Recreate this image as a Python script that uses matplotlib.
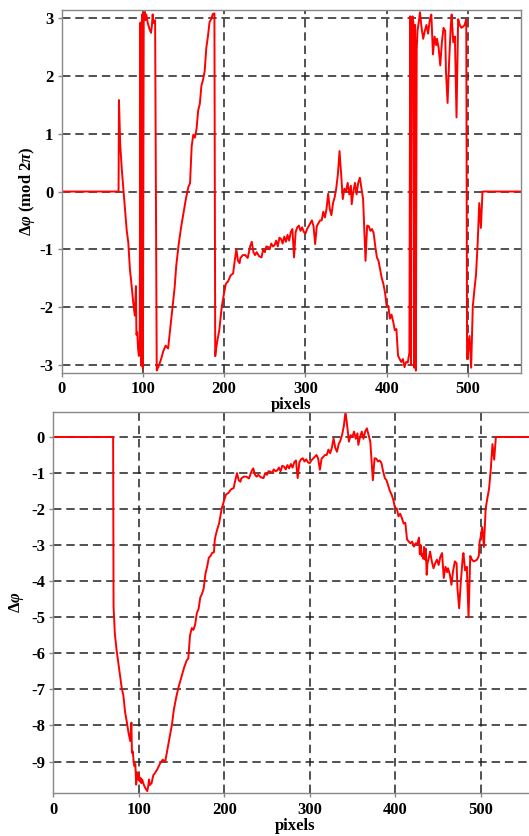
import numpy as np
import matplotlib
matplotlib.use('Agg')
import matplotlib.pyplot as plt

# unwrapped phase difference (x in pixels)
x_pix = [0, 70, 70.5, 72, 74, 76, 78, 80, 82, 84, 86, 88, 90, 91.4, 92, 93, 94, 95,
         96, 97, 98, 99, 100, 101, 102, 103, 104, 106, 108, 110, 111, 112, 113, 115,
         117, 119, 122, 125, 128, 131, 134, 137, 139, 141, 144, 147, 150, 153, 156,
         158, 160, 162, 164, 166, 168, 170, 172, 174, 176, 178, 180, 182, 184, 186,
         188, 189, 190, 192, 194, 197, 200, 202, 205, 208, 211, 213, 215, 217, 219,
         220, 223, 226, 229, 232, 234, 236, 238, 240, 243, 246, 248, 250, 252, 254,
         256, 258, 260, 262, 264, 266, 268, 270, 272, 274, 276, 278, 280, 282, 284,
         286, 288, 290, 292, 294, 296, 298, 300, 302, 304, 306, 308, 310, 312, 314,
         316, 318, 320, 322, 324, 326, 328, 330, 332, 334, 336, 338, 340, 342, 344,
         346, 348, 350, 352, 354, 356, 357, 359, 361, 363, 365, 367, 369, 371, 374,
         376, 378, 380, 382, 384, 386, 388, 390, 392, 394, 396, 398, 400, 402, 404,
         406, 408, 410, 412, 414, 416, 418, 420, 422, 424, 426, 428, 429, 430, 431,
         432, 433, 434, 435, 436, 437, 438, 440, 441, 443, 445, 447, 449, 451, 453,
         455, 457, 459, 461, 462, 464, 466, 468, 470, 472, 473, 475, 477, 479, 480,
         482, 484, 486, 488, 490, 492, 494, 496, 498, 499, 500, 502, 504, 506, 508,
         510, 512, 514, 516, 518, 565]
dphi = [0.0, 0.0, -4.70, -5.45, -5.9, -6.25, -6.6, -6.95, -7.17, -7.63, -7.9, -8.2, -8.43,
        -7.92, -8.76, -8.72, -9.0, -9.13, -9.07, -9.64, -9.3, -9.5, -9.35, -9.55, -9.45,
        -9.6, -9.5, -9.65, -9.75, -9.82, -9.7, -9.5, -9.65, -9.6, -9.38, -9.32, -9.2,
        -9.05, -8.95, -9.0, -8.6, -8.2, -7.95, -7.57, -7.2, -6.9, -6.65, -6.4, -6.2,
        -6.14, -5.5, -5.3, -5.35, -5.2, -4.88, -4.77, -4.45, -4.35, -4.2, -3.8, -3.6,
        -3.35, -3.3, -3.21, -3.2, -2.85, -2.73, -2.55, -2.4, -2.0, -1.75, -1.6, -1.55,
        -1.45, -1.42, -1.2, -1.0, -1.2, -1.24, -1.15, -1.1, -1.1, -1.15, -0.95, -0.87,
        -1.05, -1.1, -1.05, -1.12, -1.14, -1.0, -1.05, -0.95, -0.96, -1.0, -0.9, -0.95,
        -0.93, -0.85, -0.95, -0.8, -0.82, -0.9, -0.78, -0.87, -0.75, -0.85, -0.7, -0.65,
        -1.14, -0.7, -0.62, -0.59, -0.68, -0.62, -0.7, -0.73, -0.65, -0.6, -0.55, -0.5,
        -0.6, -0.91, -0.6, -0.55, -0.5, -0.5, -0.35, -0.45, -0.3, -0.04, -0.3, -0.41,
        -0.2, -0.1, 0.06, 0.3, 0.7, 0.3, -0.13, 0.05, 0.0, 0.15, -0.05, 0.1, -0.22, 0.0,
        0.15, -0.05, 0.15, 0.24, 0.05, -0.13, -1.2, -0.59, -0.6, -0.68, -0.65, -0.72,
        -0.95, -1.14, -1.2, -1.35, -1.5, -1.6, -1.75, -1.98, -1.98, -2.2, -2.13, -2.25,
        -2.4, -2.38, -2.84, -2.9, -2.95, -2.9, -3.04, -2.95, -2.96, -2.79, -3.25, -3.0,
        -3.3, -3.25, -3.38, -3.05, -3.4, -3.1, -3.82, -3.5, -3.3, -3.18, -3.45, -3.64,
        -3.5, -3.4, -3.55, -3.32, -3.22, -3.91, -3.6, -3.75, -3.64, -3.8, -4.1, -3.7,
        -3.45, -3.5, -4.2, -4.75, -4.0, -3.4, -3.22, -3.7, -3.6, -5.0, -3.3, -3.4,
        -3.45, -3.43, -3.4, -3.3, -2.9, -2.8, -2.5, -3.05, -2.0, -1.7, -1.44, -0.9,
        -0.2, -0.63, 0.0, 0.0]

x_ticks = [0, 100, 200, 300, 400, 500]
wrap_yticks = [-3, -2, -1, 0, 1, 2, 3]
unwrap_yticks = [0, -1, -2, -3, -4, -5, -6, -7, -8, -9]

x = np.array(x_pix, dtype=float)
phi = np.array(dphi)
phi_wrapped = np.angle(np.exp(1j * phi))  # mod 2pi into (-pi, pi]

plt.rcParams['font.family'] = 'Liberation Serif'
plt.rcParams['font.weight'] = 'bold'
plt.rcParams['axes.unicode_minus'] = False
plt.rcParams['mathtext.fontset'] = 'custom'
plt.rcParams['mathtext.rm'] = 'Liberation Serif:bold'
plt.rcParams['mathtext.it'] = 'Liberation Serif:bold:italic'

fig = plt.figure(figsize=(5.29, 8.36), dpi=100)
ax_top = fig.add_axes([0.1166, 0.5538, 0.8677, 0.4342])
ax_bot = fig.add_axes([0.1008, 0.0511, 0.9125, 0.4564])

line_kw = dict(color='#ff0000', linewidth=1.4)
grid_kw = dict(color='#222222', linewidth=1.1, linestyle=(0, (5.5, 3.2)))
FS = 12


def style_axes(ax, yticks):
    ax.set_xticks(x_ticks, labels=[str(v) for v in x_ticks],
                  fontsize=FS, fontweight='bold')
    ax.set_yticks(yticks, labels=[str(v) for v in yticks],
                  fontsize=FS, fontweight='bold')
    ax.grid(True, **grid_kw)
    ax.set_axisbelow(True)
    ax.tick_params(direction='out', length=3, width=1, color='#888888', pad=3)
    for s in ax.spines.values():
        s.set_color('#888888')
        s.set_linewidth(1.0)
    ax.set_xlabel('pixels', fontsize=FS, fontweight='bold', labelpad=0)


# --- top: wrapped phase ---
ax_top.plot(x, phi_wrapped, **line_kw)
ax_top.set_xlim(0, 565)
ax_top.set_ylim(-np.pi, np.pi)
style_axes(ax_top, wrap_yticks)
ax_top.set_ylabel(r'$\Delta\varphi$ (mod 2$\pi$)', fontsize=FS, fontweight='bold')
ax_top.yaxis.set_label_coords(-0.054, 0.5)

# --- bottom: unwrapped phase ---
ax_bot.plot(x, phi, **line_kw)
ax_bot.set_xlim(0, 565)
ax_bot.set_ylim(-9.88, 0.70)
style_axes(ax_bot, unwrap_yticks)
ax_bot.set_ylabel(r'$\Delta\varphi$', fontsize=FS, fontweight='bold')
ax_bot.yaxis.set_label_coords(-0.056, 0.5)

fig.savefig('out.png', dpi=100)
